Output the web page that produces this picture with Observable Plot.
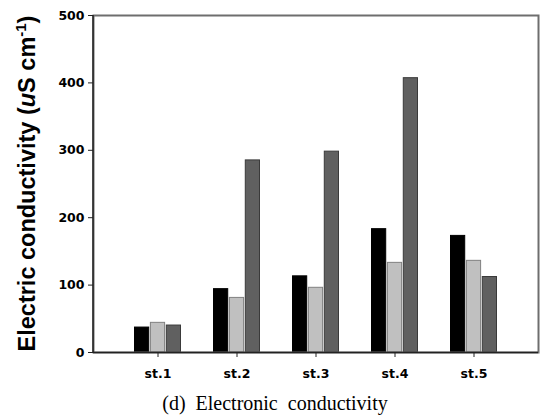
<!DOCTYPE html>
<html>
<head>
<meta charset="utf-8">
<script src="https://cdn.jsdelivr.net/npm/d3@7"></script>
<script src="https://cdn.jsdelivr.net/npm/@observablehq/plot@0.6"></script>
<style>
  html, body { margin: 0; padding: 0; background: #fff; }
  #wrap { position: relative; width: 540px; height: 416px; }
  #caption { position: absolute; left: 0; width: 550px; top: 391px; text-align: center;
    font-family: "Liberation Serif", "Times New Roman", serif; font-size: 20px; word-spacing: 0px; line-height: 24px; }
</style>
</head>
<body>
<div id="wrap"><div id="chart"></div><div id="caption">(d)&nbsp; Electronic&nbsp; conductivity</div></div>
<script>
const stations = ["st.1", "st.2", "st.3", "st.4", "st.5"];
const seriesNames = ["A", "B", "C"];
const seriesA = [37, 94, 113, 183, 173];
const seriesB = [44, 81, 96, 133, 136];
const seriesC = [40, 285, 298, 407, 112];
const yTicks = [0, 100, 200, 300, 400, 500];
const fills = ["#000000", "#c0c0c0", "#606060"];
const strokes = ["#000000", "#808080", "#3a3a3a"];

const allSeries = [seriesA, seriesB, seriesC];
const rows = allSeries.map((vals, s) => stations.map((st, i) => ({station: st, series: seriesNames[s], value: vals[i]})));

const width = 540, height = 390;
const mL = 93, mR = 2, mT = 15, mB = 38;
const pi = 0.4, po = 0.5;
const step = (width - mL - mR) / (stations.length - pi + 2 * po);
const bw = step * (1 - pi);
const third = bw / 3;

const tickFont = "'DejaVu Sans', 'Liberation Sans', sans-serif";

const barMarks = rows.map((data, s) => Plot.barY(data, {
  x: "station", y: "value",
  fill: fills[s], stroke: strokes[s], strokeWidth: 1,
  insetLeft: s * third + 0.5, insetRight: (2 - s) * third + 0.5
}));

const chart = Plot.plot({
  width, height,
  marginLeft: mL, marginRight: mR, marginTop: mT, marginBottom: mB,
  style: {fontFamily: tickFont, background: "#fff"},
  x: {type: "band", domain: stations, paddingInner: pi, paddingOuter: po, align: 0.5, label: null},
  y: {domain: [0, 500], label: null},
  marks: [
    ...barMarks,
    Plot.frame({stroke: "#6e6e6e", strokeWidth: 2}),
    Plot.ruleY([0], {stroke: "#222", strokeWidth: 1.5}),
    Plot.axisY({ticks: yTicks, tickSize: 5, tickPadding: 4, fontSize: 12.5, fontWeight: "bold", label: null, stroke: "#222", color: "#000"}),
    Plot.axisX({tickSize: 5, tickPadding: 12, fontSize: 12.5, fontWeight: "bold", label: null, stroke: "#222", color: "#000"})
  ]
});
document.getElementById("chart").appendChild(chart);

const svg = d3.select(chart);
// dark left axis line, placed from the plot's own scales
const xr = chart.scale("x").range, yr = chart.scale("y").range;
svg.append("line")
  .attr("x1", xr[0]).attr("x2", xr[0])
  .attr("y1", yr[0]).attr("y2", yr[1])
  .attr("stroke", "#222").attr("stroke-width", 1.5);

// rotated y-axis title with italic u and superscript -1
const cy = (yr[0] + yr[1]) / 2;
const t = svg.append("text")
  .attr("transform", `translate(35,${cy}) rotate(-90)`)
  .attr("text-anchor", "middle")
  .attr("font-family", "'Liberation Sans', Arial, sans-serif")
  .attr("font-weight", "bold")
  .attr("font-size", 23.5)
  .attr("fill", "#000");
t.append("tspan").text("Electric conductivity (");
t.append("tspan").attr("font-style", "italic").text("u");
t.append("tspan").text("S cm");
t.append("tspan").attr("font-size", 15).attr("dy", -9).text("-1");
t.append("tspan").attr("dy", 9).text(")");
</script>
</body>
</html>
